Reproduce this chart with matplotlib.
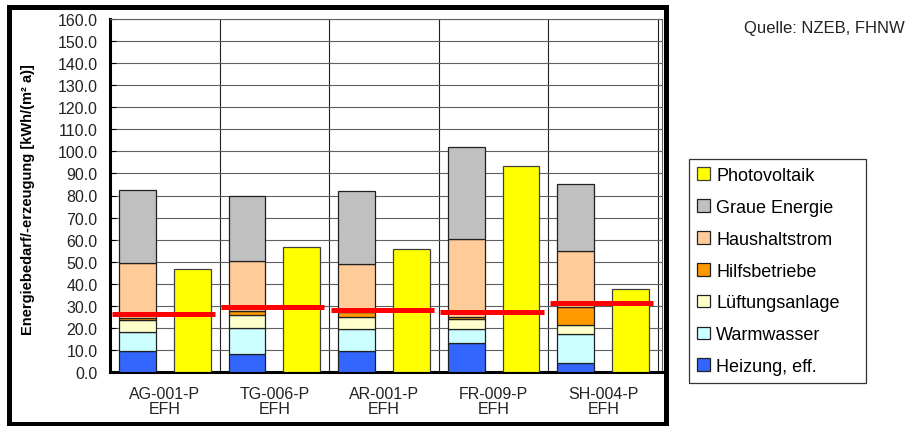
import matplotlib.pyplot as plt
import matplotlib.patches as mpatches
import numpy as np

plt.rcParams['font.family'] = ['Liberation Sans', 'DejaVu Sans']

# data (kWh/(m2 a))
gebaeude = ["AG-001-P\nEFH", "TG-006-P\nEFH", "AR-001-P\nEFH", "FR-009-P\nEFH", "SH-004-P\nEFH"]
heizung = [9.4, 8.0, 9.4, 13.3, 4.1]
warmwasser = [8.8, 12.1, 10.3, 6.4, 13.0]
lueftung = [5.3, 5.9, 5.1, 4.5, 4.1]
hilfsbetriebe = [1.0, 1.6, 2.2, 0.8, 8.3]
haushaltstrom = [25.0, 22.7, 22.1, 35.3, 25.5]
graue_energie = [33.0, 29.7, 33.0, 41.5, 30.3]
photovoltaik = [46.5, 56.5, 55.7, 93.5, 37.4]
grenzwert = [26.4, 29.5, 28.0, 27.0, 31.2]

stack_names = ["Heizung, eff.", "Warmwasser", "Lüftungsanlage", "Hilfsbetriebe",
               "Haushaltstrom", "Graue Energie"]
stack_colors = ["#3366FF", "#CCFFFF", "#FFFFCC", "#FF9900", "#FFCC99", "#C0C0C0"]
pv_color = "#FFFF00"


def main():
    fig = plt.figure(figsize=(9.09, 4.27), dpi=100)
    ax = fig.add_axes([110 / 909, 54 / 427, 552 / 909, 353 / 427])

    x = np.arange(len(gebaeude))
    w = 0.335
    off = 0.25

    bottom = np.zeros(len(gebaeude))
    handles = {}
    for vals, name, col in zip([heizung, warmwasser, lueftung, hilfsbetriebe,
                                haushaltstrom, graue_energie], stack_names, stack_colors):
        b = ax.bar(x - off, vals, w, bottom=bottom, color=col, edgecolor="#202020",
                   linewidth=0.9, zorder=3)
        handles[name] = b
        bottom += np.array(vals)

    handles["Photovoltaik"] = ax.bar(x + off, photovoltaik, w, color=pv_color,
                                     edgecolor="#404040", linewidth=0.9, zorder=3)

    ax.hlines(grenzwert, x - 0.485, x + 0.455, colors="#FF0000", linewidth=3.6, zorder=5)

    ax.set_xlim(-0.5, 4.536)
    ax.set_ylim(0, 160)
    ax.set_yticks(np.arange(0, 161, 10))
    ax.set_yticklabels(["%.1f" % v for v in np.arange(0, 161, 10)])
    ax.set_xticks(x)
    ax.set_xticklabels(gebaeude, linespacing=1.0)

    ax.grid(axis="y", color="#606060", linewidth=0.8, zorder=0)
    for b in np.arange(0.5, 5.0, 1.0):
        ax.axvline(b, color="#202020", linewidth=0.8, zorder=1)

    ax.tick_params(axis="y", direction="in", length=4, width=0.8, pad=9,
                   labelsize=11.5, labelcolor="#222222")
    ax.tick_params(axis="x", length=0, pad=10, labelsize=11.5, labelcolor="#222222")

    for s in ["left", "bottom"]:
        ax.spines[s].set_linewidth(2.2)
        ax.spines[s].set_color("black")
    for s in ["top", "right"]:
        ax.spines[s].set_linewidth(0.8)
        ax.spines[s].set_color("#606060")

    ax.set_ylabel("Energiebedarf/-erzeugung [kWh/(m² a)]", fontsize=10.5,
                  fontweight="bold")
    ax.yaxis.set_label_coords(-0.136, 0.49)

    # thick frame around the chart area
    fig.patches.append(mpatches.Rectangle((8.5 / 909, 2.5 / 427), 657 / 909, 417 / 427,
                                          fill=False, edgecolor="black", linewidth=3.6,
                                          transform=fig.transFigure, zorder=10))

    order = ["Photovoltaik", "Graue Energie", "Haushaltstrom", "Hilfsbetriebe",
             "Lüftungsanlage", "Warmwasser", "Heizung, eff."]
    leg = fig.legend([handles[n] for n in order], order, loc="upper left",
                     bbox_to_anchor=(689 / 909, 267 / 427, 177 / 909, 0), mode="expand",
                     fontsize=13, frameon=True, fancybox=False, edgecolor="black",
                     handlelength=0.7, handleheight=0.7, handletextpad=0.35,
                     labelspacing=0.82, borderpad=0.45, borderaxespad=0)
    leg.get_frame().set_linewidth(0.9)

    fig.text(905 / 909, 0.934, "Quelle: NZEB, FHNW", ha="right", va="center",
             fontsize=12, color="#222222")

    fig.savefig("out.png", dpi=100)


if __name__ == "__main__":
    main()
